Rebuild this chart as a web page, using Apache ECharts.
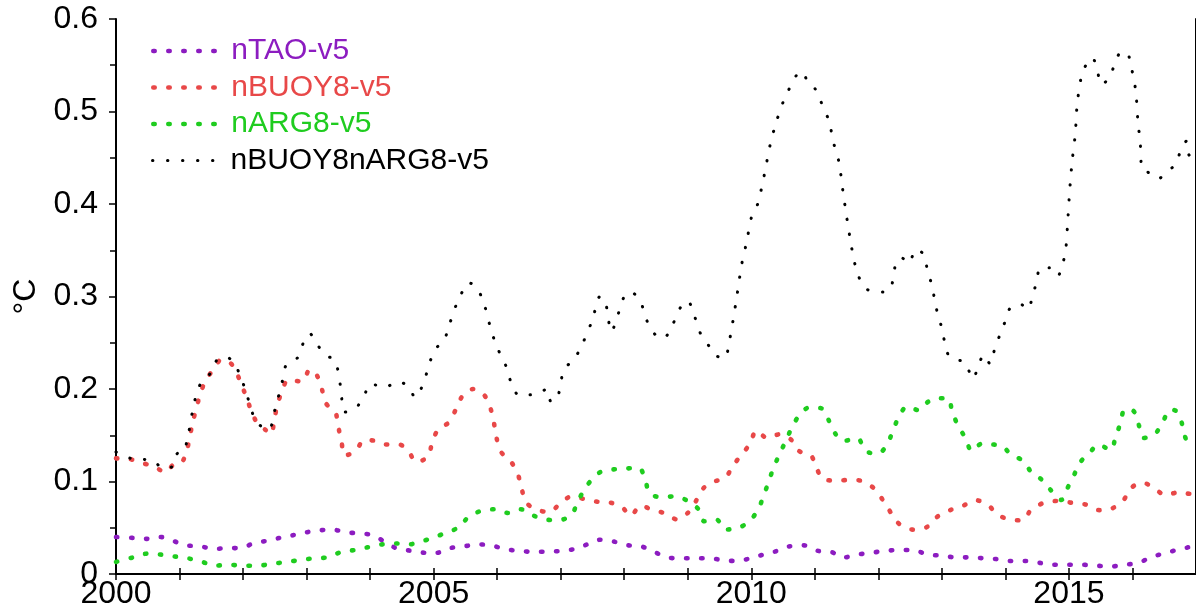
<!DOCTYPE html>
<html><head><meta charset="utf-8">
<script src="https://cdn.jsdelivr.net/npm/echarts@6/dist/echarts.min.js"></script>
<style>html,body{margin:0;padding:0;background:#fff}#c{width:1196px;height:614px}</style>
</head><body><div id="c"></div>
<script>
// [year, °C]
const taoData = [[2000.0,0.04],[2000.27,0.039],[2000.49,0.038],[2000.7,0.04],[2000.89,0.036],[2001.11,0.031],[2001.33,0.03],[2001.53,0.027],[2001.75,0.028],[2001.96,0.028],[2002.16,0.033],[2002.38,0.036],[2002.58,0.039],[2002.79,0.042],[2002.99,0.045],[2003.18,0.047],[2003.41,0.048],[2003.62,0.045],[2003.83,0.044],[2004.04,0.042],[2004.2,0.036],[2004.41,0.028],[2004.65,0.025],[2004.87,0.023],[2005.05,0.023],[2005.26,0.028],[2005.48,0.03],[2005.7,0.032],[2005.9,0.031],[2006.12,0.027],[2006.34,0.025],[2006.56,0.024],[2006.78,0.024],[2007.0,0.025],[2007.22,0.027],[2007.42,0.032],[2007.62,0.037],[2007.84,0.035],[2008.06,0.031],[2008.26,0.03],[2008.47,0.024],[2008.67,0.018],[2008.87,0.017],[2009.09,0.017],[2009.33,0.017],[2009.55,0.015],[2009.77,0.014],[2009.99,0.017],[2010.19,0.021],[2010.41,0.025],[2010.61,0.03],[2010.83,0.031],[2011.05,0.025],[2011.25,0.024],[2011.46,0.018],[2011.67,0.021],[2011.89,0.023],[2012.11,0.025],[2012.33,0.026],[2012.55,0.026],[2012.77,0.021],[2012.99,0.02],[2013.21,0.018],[2013.43,0.018],[2013.65,0.017],[2013.88,0.016],[2014.1,0.014],[2014.32,0.014],[2014.54,0.012],[2014.76,0.01],[2014.98,0.01],[2015.2,0.01],[2015.43,0.009],[2015.65,0.008],[2015.87,0.01],[2016.09,0.012],[2016.29,0.018],[2016.48,0.022],[2016.7,0.026],[2016.89,0.029],[2017.0,0.03]];

const buoyData = [[2000.0,0.125],[2000.23,0.124],[2000.4,0.12],[2000.58,0.117],[2000.78,0.11],[2000.9,0.118],[2001.03,0.12],[2001.12,0.135],[2001.21,0.165],[2001.27,0.18],[2001.33,0.196],[2001.42,0.21],[2001.55,0.223],[2001.66,0.232],[2001.83,0.226],[2002.02,0.197],[2002.19,0.167],[2002.35,0.156],[2002.44,0.151],[2002.49,0.166],[2002.54,0.183],[2002.61,0.197],[2002.71,0.21],[2002.93,0.208],[2003.05,0.221],[2003.16,0.215],[2003.24,0.2],[2003.3,0.185],[2003.4,0.178],[2003.46,0.174],[2003.5,0.159],[2003.55,0.143],[2003.6,0.128],[2003.77,0.133],[2003.91,0.145],[2004.07,0.144],[2004.26,0.14],[2004.46,0.14],[2004.6,0.133],[2004.73,0.121],[2004.91,0.127],[2004.98,0.143],[2005.07,0.156],[2005.24,0.164],[2005.35,0.178],[2005.45,0.192],[2005.62,0.2],[2005.8,0.193],[2005.9,0.178],[2005.95,0.163],[2005.99,0.147],[2006.06,0.132],[2006.21,0.122],[2006.32,0.109],[2006.38,0.094],[2006.45,0.078],[2006.6,0.07],[2006.82,0.067],[2006.99,0.076],[2007.17,0.084],[2007.37,0.081],[2007.59,0.078],[2007.79,0.077],[2007.97,0.072],[2008.1,0.063],[2008.26,0.074],[2008.45,0.069],[2008.62,0.066],[2008.83,0.059],[2009.0,0.066],[2009.13,0.079],[2009.25,0.093],[2009.42,0.1],[2009.59,0.104],[2009.72,0.118],[2009.86,0.13],[2009.98,0.141],[2010.08,0.155],[2010.25,0.147],[2010.44,0.151],[2010.63,0.145],[2010.75,0.133],[2010.94,0.128],[2011.03,0.114],[2011.14,0.102],[2011.38,0.101],[2011.57,0.102],[2011.77,0.1],[2011.94,0.092],[2012.08,0.079],[2012.2,0.066],[2012.33,0.054],[2012.55,0.048],[2012.77,0.051],[2012.93,0.062],[2013.13,0.069],[2013.34,0.074],[2013.52,0.08],[2013.72,0.075],[2013.88,0.064],[2014.07,0.059],[2014.27,0.058],[2014.41,0.07],[2014.61,0.077],[2014.82,0.079],[2015.05,0.077],[2015.27,0.075],[2015.48,0.069],[2015.68,0.071],[2015.85,0.079],[2015.98,0.093],[2016.15,0.099],[2016.34,0.093],[2016.52,0.085],[2016.7,0.088],[2016.85,0.087],[2017.0,0.086]];

const argData = [[2000.0,0.013],[2000.27,0.018],[2000.49,0.022],[2000.7,0.021],[2000.92,0.019],[2001.13,0.017],[2001.36,0.013],[2001.56,0.009],[2001.78,0.01],[2002.0,0.009],[2002.22,0.009],[2002.46,0.011],[2002.68,0.013],[2002.9,0.015],[2003.11,0.017],[2003.33,0.018],[2003.55,0.024],[2003.77,0.026],[2003.97,0.029],[2004.19,0.032],[2004.4,0.033],[2004.6,0.032],[2004.8,0.035],[2005.02,0.04],[2005.21,0.045],[2005.41,0.051],[2005.55,0.062],[2005.74,0.068],[2005.96,0.07],[2006.17,0.066],[2006.37,0.07],[2006.54,0.064],[2006.76,0.059],[2006.96,0.058],[2007.17,0.064],[2007.26,0.077],[2007.37,0.091],[2007.5,0.103],[2007.62,0.11],[2007.82,0.113],[2008.03,0.114],[2008.23,0.115],[2008.33,0.102],[2008.4,0.087],[2008.59,0.083],[2008.8,0.084],[2009.0,0.079],[2009.17,0.07],[2009.26,0.057],[2009.45,0.059],[2009.59,0.048],[2009.8,0.05],[2009.97,0.057],[2010.11,0.07],[2010.19,0.084],[2010.27,0.099],[2010.34,0.113],[2010.44,0.129],[2010.53,0.142],[2010.63,0.157],[2010.74,0.17],[2010.91,0.18],[2011.11,0.179],[2011.22,0.166],[2011.33,0.151],[2011.46,0.144],[2011.67,0.147],[2011.8,0.133],[2011.99,0.13],[2012.13,0.139],[2012.23,0.155],[2012.31,0.168],[2012.45,0.181],[2012.64,0.177],[2012.78,0.186],[2012.91,0.19],[2013.1,0.19],[2013.16,0.176],[2013.25,0.161],[2013.37,0.147],[2013.47,0.133],[2013.63,0.141],[2013.8,0.14],[2013.94,0.139],[2014.1,0.128],[2014.27,0.123],[2014.41,0.11],[2014.57,0.102],[2014.71,0.091],[2014.88,0.08],[2014.97,0.092],[2015.08,0.107],[2015.18,0.121],[2015.35,0.133],[2015.46,0.14],[2015.66,0.134],[2015.73,0.147],[2015.81,0.163],[2015.88,0.178],[2016.02,0.176],[2016.1,0.161],[2016.17,0.147],[2016.35,0.151],[2016.48,0.165],[2016.6,0.178],[2016.71,0.175],[2016.79,0.16],[2016.85,0.145],[2017.0,0.14]];

const bothData = [[2000.0,0.132],[2000.23,0.125],[2000.4,0.124],[2000.58,0.123],[2000.74,0.114],[2000.88,0.116],[2000.96,0.13],[2001.06,0.132],[2001.13,0.148],[2001.21,0.178],[2001.27,0.195],[2001.35,0.208],[2001.5,0.218],[2001.61,0.233],[2001.75,0.234],[2001.89,0.224],[2001.99,0.208],[2002.05,0.196],[2002.13,0.178],[2002.21,0.164],[2002.41,0.156],[2002.46,0.164],[2002.52,0.184],[2002.58,0.197],[2002.63,0.212],[2002.68,0.226],[2002.86,0.234],[2002.95,0.25],[2003.05,0.26],[2003.15,0.25],[2003.3,0.236],[2003.41,0.233],[2003.48,0.224],[2003.54,0.2],[2003.6,0.175],[2003.77,0.179],[2003.9,0.192],[2004.01,0.206],[2004.1,0.204],[2004.24,0.202],[2004.43,0.208],[2004.6,0.203],[2004.71,0.191],[2004.8,0.2],[2004.88,0.215],[2004.95,0.231],[2005.05,0.245],[2005.15,0.25],[2005.25,0.27],[2005.35,0.29],[2005.45,0.305],[2005.55,0.315],[2005.67,0.31],[2005.78,0.295],[2005.88,0.27],[2005.97,0.25],[2006.06,0.236],[2006.15,0.223],[2006.22,0.207],[2006.35,0.193],[2006.64,0.195],[2006.78,0.2],[2006.85,0.186],[2006.95,0.191],[2007.0,0.207],[2007.06,0.222],[2007.21,0.232],[2007.35,0.25],[2007.5,0.275],[2007.62,0.3],[2007.7,0.295],[2007.8,0.262],[2007.9,0.28],[2008.0,0.3],[2008.1,0.305],[2008.25,0.295],[2008.38,0.27],[2008.5,0.258],[2008.62,0.255],[2008.75,0.268],[2008.9,0.29],[2009.0,0.295],[2009.1,0.28],[2009.2,0.26],[2009.35,0.245],[2009.45,0.236],[2009.58,0.233],[2009.65,0.25],[2009.75,0.29],[2009.85,0.335],[2009.93,0.36],[2010.0,0.385],[2010.1,0.4],[2010.2,0.43],[2010.3,0.465],[2010.4,0.49],[2010.5,0.51],[2010.6,0.525],[2010.72,0.54],[2010.8,0.543],[2010.9,0.53],[2011.0,0.525],[2011.1,0.51],[2011.22,0.49],[2011.3,0.465],[2011.38,0.445],[2011.45,0.41],[2011.55,0.365],[2011.65,0.33],[2011.78,0.31],[2011.95,0.305],[2012.1,0.305],[2012.2,0.31],[2012.28,0.337],[2012.36,0.342],[2012.48,0.336],[2012.59,0.351],[2012.72,0.345],[2012.77,0.329],[2012.83,0.315],[2012.88,0.299],[2012.93,0.282],[2012.99,0.268],[2013.04,0.252],[2013.1,0.237],[2013.2,0.232],[2013.36,0.229],[2013.49,0.211],[2013.57,0.224],[2013.66,0.237],[2013.76,0.227],[2013.83,0.243],[2013.91,0.258],[2013.99,0.272],[2014.07,0.287],[2014.23,0.292],[2014.35,0.286],[2014.43,0.301],[2014.49,0.316],[2014.55,0.331],[2014.69,0.331],[2014.82,0.322],[2014.9,0.335],[2014.95,0.351],[2014.98,0.38],[2015.01,0.413],[2015.05,0.446],[2015.1,0.476],[2015.13,0.508],[2015.2,0.539],[2015.29,0.553],[2015.37,0.558],[2015.45,0.543],[2015.51,0.529],[2015.63,0.536],[2015.71,0.549],[2015.82,0.564],[2015.92,0.563],[2015.98,0.548],[2016.03,0.532],[2016.06,0.516],[2016.09,0.485],[2016.12,0.47],[2016.15,0.438],[2016.23,0.435],[2016.4,0.427],[2016.54,0.435],[2016.68,0.443],[2016.76,0.458],[2016.85,0.468],[2016.89,0.453],[2017.0,0.45]];

const seriesNames = ['nTAO-v5', 'nBUOY8-v5', 'nARG8-v5', 'nBUOY8nARG8-v5'];
const seriesColors = ['#8c1cc0', '#e84848', '#1fcc1f', '#000000'];
const xTickLabels = [2000, 2005, 2010, 2015];
const yTickLabels = [0, 0.1, 0.2, 0.3, 0.4, 0.5, 0.6];

const FONT = 'Liberation Sans';
const allData = [taoData, buoyData, argData, bothData];
const chart = echarts.init(document.getElementById('c'));

const lineStyleOf = (i) => i === 3
  ? { color: seriesColors[i], width: 3, type: [0.4, 14.6], cap: 'round' }
  : { color: seriesColors[i], width: 4.6, type: [1.4, 13.6], cap: 'round' };

const mkSeries = (i) => ({
  name: seriesNames[i], type: 'line', data: allData[i],
  xAxisIndex: 0, yAxisIndex: 0,
  symbol: 'none', smooth: 0.3, silent: true, z: i === 3 ? 5 : 3,
  lineStyle: lineStyleOf(i),
  itemStyle: { color: seriesColors[i] }
});

const legends = seriesNames.map((n, i) => ({
  data: [{ name: n, textStyle: { color: seriesColors[i] } }],
  left: 146, top: 31 + i * 36.5,
  itemWidth: 64, itemHeight: 14,
  selectedMode: false,
  itemStyle: { opacity: 0 },
  lineStyle: lineStyleOf(i),
  textStyle: { fontFamily: FONT, fontSize: 30, padding: [0, 0, 0, 9] }
}));

const axisLine = { show: true, lineStyle: { color: '#000', width: 2 } };
chart.setOption({
  animation: false,
  backgroundColor: '#fff',
  grid: { left: 116, top: 19, width: 1086, height: 555, show: false },
  legend: legends,
  xAxis: [{
    type: 'value', min: 2000, max: 2017, interval: 1, position: 'bottom',
    axisLine, axisTick: { show: true, length: 6, lineStyle: { color: '#000', width: 1.5 } },
    splitLine: { show: false },
    axisLabel: { fontFamily: FONT, fontSize: 32, color: '#000', margin: 4,
      formatter: v => xTickLabels.includes(v) ? String(v) : '' , showMinLabel: true, showMaxLabel: false }
  }, {
    type: 'value', min: 2000, max: 2017, interval: 1, position: 'top',
    axisLine, axisTick: { show: true, length: 6, lineStyle: { color: '#000', width: 1.5 } },
    splitLine: { show: false }, axisLabel: { show: false }
  }],
  yAxis: [{
    type: 'value', min: 0, max: 0.6, interval: 0.1, position: 'left',
    name: '°C', nameLocation: 'middle', nameRotate: 90, nameGap: 66,
    nameTextStyle: { fontFamily: FONT, fontSize: 32, color: '#000' },
    axisLine, axisTick: { show: true, length: 7, lineStyle: { color: '#000', width: 1.5 } },
    minorTick: { show: true, splitNumber: 2, length: 6, lineStyle: { color: '#000', width: 1.5 } },
    splitLine: { show: false },
    axisLabel: { fontFamily: FONT, fontSize: 32, color: '#000', margin: 18,
      formatter: v => { const m = yTickLabels.find(t => Math.abs(t - v) < 1e-9); return m === undefined ? '' : (m === 0 ? '0' : m.toFixed(1)); } }
  }, {
    type: 'value', min: 0, max: 0.6, interval: 0.1, position: 'right',
    axisLine, axisTick: { show: true, length: 6 }, splitLine: { show: false }, axisLabel: { show: false }
  }],
  series: [mkSeries(0), mkSeries(1), mkSeries(2), mkSeries(3)]
});
</script></body></html>
